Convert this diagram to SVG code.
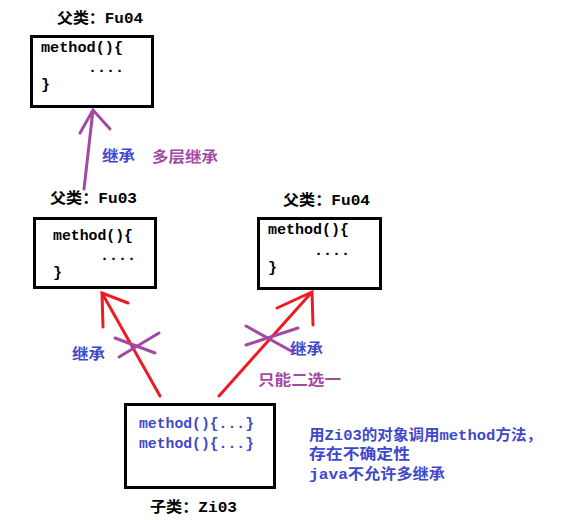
<svg xmlns="http://www.w3.org/2000/svg" width="572" height="520" viewBox="0 0 572 520">
<style>
text{font-family:"Liberation Mono","Noto Sans CJK SC",monospace;font-size:15px;font-weight:bold;fill:#000}
.box{fill:#fff;stroke:#000;stroke-width:3}
.blue{fill:#3f48cc}
.purple{fill:#a349a4}
.red{stroke:#ed1c24;stroke-width:3;fill:none;stroke-linecap:round}
.pur{stroke:#a349a4;stroke-width:3;fill:none;stroke-linecap:round}
</style>
<rect width="572" height="520" fill="#fff"/>
<g id="fu04-top">
<text x="57" y="23" textLength="86" lengthAdjust="spacingAndGlyphs">父类：Fu04</text>
<rect class="box" x="31.5" y="36.5" width="121" height="70"/>
<text x="41" y="52" textLength="82" lengthAdjust="spacingAndGlyphs">method(){</text>
<text x="88" y="72">....</text>
<text x="41" y="89">}</text>
</g>
<g id="fu03">
<text x="50" y="203" textLength="87" lengthAdjust="spacingAndGlyphs">父类：Fu03</text>
<rect class="box" x="34.5" y="218.5" width="121" height="69"/>
<text x="53" y="240" textLength="80" lengthAdjust="spacingAndGlyphs">method(){</text>
<text x="100" y="260">....</text>
<text x="53" y="277">}</text>
</g>
<g id="fu04-right">
<text x="283" y="205" textLength="87" lengthAdjust="spacingAndGlyphs">父类：Fu04</text>
<rect class="box" x="258.5" y="218.5" width="122" height="70"/>
<text x="268" y="234" textLength="81" lengthAdjust="spacingAndGlyphs">method(){</text>
<text x="314" y="255">....</text>
<text x="268" y="272">}</text>
</g>
<g id="zi03">
<rect class="box" x="125.5" y="404.5" width="149" height="83"/>
<text class="blue" x="139" y="428" textLength="115" lengthAdjust="spacingAndGlyphs">method(){...}</text>
<text class="blue" x="139" y="448" textLength="115" lengthAdjust="spacingAndGlyphs">method(){...}</text>
<text x="150" y="512" textLength="87" lengthAdjust="spacingAndGlyphs">子类：Zi03</text>
</g>
<g id="connectors">
<path class="pur" d="M84,189 L93,110 M80,133 L93,110 L110,129"/>
<path class="red" d="M160,396 L102,293 M103,327 L102,293 L128,303"/>
<path class="red" d="M219,396 L312,292 M277,308 L312,292 L313,325"/>
<path class="pur" d="M115,338 L155,353 M119,357 L159,333"/>
<path class="pur" d="M246,326 L293,352 M246,345 L298,328"/>
</g>
<g id="labels">
<text class="blue" x="102" y="161" textLength="33" lengthAdjust="spacingAndGlyphs">继承</text>
<text class="purple" x="152" y="162" textLength="66" lengthAdjust="spacingAndGlyphs">多层继承</text>
<text class="blue" x="72" y="359" textLength="33" lengthAdjust="spacingAndGlyphs">继承</text>
<text class="blue" x="290" y="354" textLength="33" lengthAdjust="spacingAndGlyphs">继承</text>
<text class="purple" x="258" y="385" textLength="83" lengthAdjust="spacingAndGlyphs">只能二选一</text>
<text class="blue" x="309" y="440" textLength="233" lengthAdjust="spacingAndGlyphs">用Zi03的对象调用method方法，</text>
<text class="blue" x="309" y="459" textLength="101" lengthAdjust="spacingAndGlyphs">存在不确定性</text>
<text class="blue" x="309" y="479" textLength="136" lengthAdjust="spacingAndGlyphs">java不允许多继承</text>
</g>
</svg>
